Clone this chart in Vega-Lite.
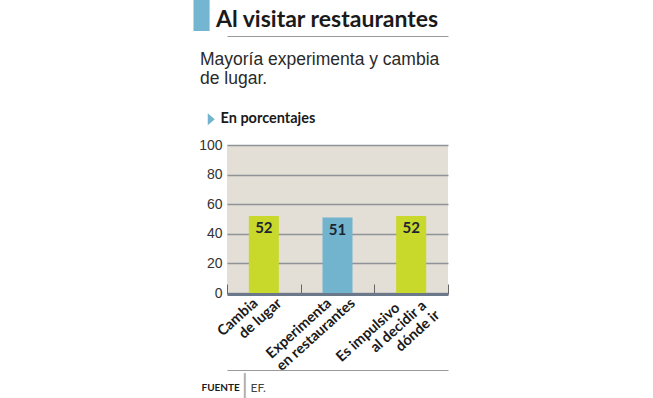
{
  "$schema": "https://vega.github.io/schema/vega-lite/v6.json",
  "width": 221,
  "height": 148,
  "autosize": {"type": "none"},
  "padding": {"left": 227, "top": 145, "right": 205, "bottom": 105},
  "background": "white",
  "title": {
    "text": "\u200b\u00a0\u00a0\u00a0Al visitar restaurantes",
    "subtitle": ["Mayoría experimenta y cambia", "de lugar."],
    "anchor": "start",
    "frame": "group",
    "orient": "top",
    "offset": 0,
    "dx": -27,
    "dy": 86,
    "baseline": "top",
    "font": "Lato",
    "fontSize": 23,
    "fontWeight": "bold",
    "color": "#1a1a1a",
    "subtitleFont": "Liberation Sans, Arial, sans-serif",
    "subtitleFontSize": 17.5,
    "subtitleColor": "#2a2a2a",
    "subtitlePadding": 19,
    "subtitleLineHeight": 19
  },
  "data": {
    "values": [
      {"categoria": "Cambia de lugar", "valor": 52},
      {"categoria": "Experimenta en restaurantes", "valor": 51},
      {"categoria": "Es impulsivo al decidir a dónde ir", "valor": 52}
    ]
  },
  "resolve": {"axis": {"x": "independent", "y": "independent"}},
  "layer": [
    {
      "mark": {"type": "bar", "width": 30},
      "encoding": {
        "x": {
          "field": "categoria",
          "type": "nominal",
          "sort": null,
          "scale": {"paddingInner": 0, "paddingOuter": 0},
          "axis": {
            "orient": "bottom",
            "offset": 1,
            "zindex": 1,
            "grid": false,
            "domainColor": "#6b7889",
            "domainWidth": 3,
            "tickBand": "extent",
            "tickSize": -10,
            "tickColor": "#666666",
            "tickWidth": 1,
            "labelAngle": -42,
            "labelAlign": "right",
            "labelBaseline": "top",
            "labelPadding": 0,
            "labelFont": "Lato",
            "labelFontWeight": "bold",
            "labelFontSize": 14.5,
            "labelLineHeight": 16,
            "labelColor": "#1a1a1a",
            "labelOverlap": false,
            "labelBound": false,
            "labelFlush": false,
            "labelLimit": 0,
            "labelExpr": "datum.value == 'Cambia de lugar' ? ['Cambia\u00a0\u00a0\u00a0\u00a0\u00a0\u200b', 'de lugar'] : datum.value == 'Experimenta en restaurantes' ? ['Experimenta\u00a0\u00a0\u00a0\u00a0\u00a0\u200b', 'en restaurantes'] : datum.value == 'Es impulsivo al decidir a dónde ir' ? ['Es impulsivo\u00a0\u00a0\u00a0\u00a0\u00a0\u00a0\u00a0\u200b', 'al decidir a\u00a0\u200b', 'dónde ir'] : ''",
            "title": "FUENTE",
            "titleX": -26,
            "titleY": 96,
            "titleAngle": 0,
            "titleAlign": "left",
            "titleBaseline": "alphabetic",
            "titleFont": "Lato",
            "titleFontWeight": "bold",
            "titleFontSize": 10,
            "titleColor": "#1a1a1a"
          }
        },
        "y": {
          "field": "valor",
          "type": "quantitative",
          "scale": {"domain": [0, 100], "nice": false},
          "axis": {
            "values": [0, 20, 40, 60, 80, 100],
            "grid": true,
            "gridColor": "#8e9398",
            "gridWidth": 1.5,
            "domain": false,
            "ticks": false,
            "labelPadding": 5,
            "labelFont": "Liberation Sans, Arial, sans-serif",
            "labelFontSize": 14,
            "labelColor": "#333333",
            "title": "▊",
            "titleX": -34,
            "titleY": -122,
            "titleAngle": 0,
            "titleAlign": "left",
            "titleBaseline": "alphabetic",
            "titleFont": "DejaVu Sans",
            "titleFontSize": 27,
            "titleFontWeight": "normal",
            "titleColor": "#74b5d1"
          }
        },
        "color": {
          "field": "categoria",
          "type": "nominal",
          "scale": {
            "domain": ["Cambia de lugar", "Experimenta en restaurantes", "Es impulsivo al decidir a dónde ir"],
            "range": ["#c8d92b", "#72b4ce", "#c8d92b"]
          },
          "legend": {
            "orient": "none",
            "legendX": -23,
            "legendY": -33,
            "values": ["Experimenta en restaurantes"],
            "title": null,
            "padding": 0,
            "symbolType": "M-0.58,-1L0.58,0L-0.58,1Z",
            "symbolSize": 144,
            "symbolStrokeWidth": 0,
            "symbolOpacity": 1,
            "labelExpr": "'En porcentajes'",
            "labelFont": "Lato",
            "labelFontWeight": "bold",
            "labelFontSize": 14.5,
            "labelColor": "#1a1a1a",
            "labelOffset": 2
          }
        }
      }
    },
    {
      "mark": {
        "type": "text",
        "baseline": "middle",
        "dy": 12,
        "font": "Lato",
        "fontWeight": "bold",
        "fontSize": 15,
        "color": "#1c2433"
      },
      "encoding": {
        "x": {
          "field": "categoria",
          "type": "nominal",
          "sort": null,
          "axis": {
            "orient": "top",
            "offset": 109,
            "labels": false,
            "ticks": false,
            "grid": false,
            "domainColor": "#9a9a9a",
            "domainWidth": 1,
            "title": null
          }
        },
        "y": {
          "field": "valor",
          "type": "quantitative",
          "scale": {"domain": [0, 100], "nice": false},
          "axis": {
            "orient": "right",
            "labels": false,
            "ticks": false,
            "grid": false,
            "domain": false,
            "title": "│",
            "titleX": -204,
            "titleY": 248,
            "titleAngle": 0,
            "titleAlign": "center",
            "titleBaseline": "alphabetic",
            "titleFont": "DejaVu Sans",
            "titleFontSize": 22,
            "titleFontWeight": "normal",
            "titleColor": "#aaaaaa"
          }
        },
        "text": {"field": "valor", "type": "quantitative"}
      }
    },
    {
      "data": {"values": []},
      "mark": "bar",
      "encoding": {
        "x": {
          "field": "categoria",
          "type": "nominal",
          "sort": null,
          "axis": {
            "orient": "bottom",
            "offset": 77,
            "labels": false,
            "ticks": false,
            "grid": false,
            "domainColor": "#9a9a9a",
            "domainWidth": 1,
            "title": "EF.",
            "titleX": 23,
            "titleY": 21,
            "titleAngle": 0,
            "titleAlign": "left",
            "titleBaseline": "alphabetic",
            "titleFont": "Lato",
            "titleFontSize": 12,
            "titleFontWeight": "normal",
            "titleColor": "#444444"
          }
        },
        "y": {
          "field": "valor",
          "type": "quantitative",
          "scale": {"domain": [0, 100], "nice": false},
          "axis": null
        }
      }
    }
  ],
  "config": {
    "view": {"fill": "#e3ded6", "stroke": null}
  }
}
